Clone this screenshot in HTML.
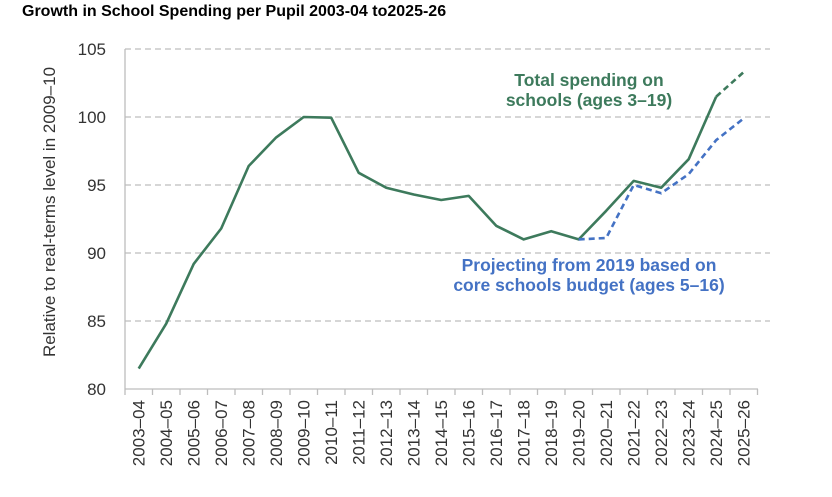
<!DOCTYPE html>
<html><head><style>
body{margin:0;background:#fff;width:832px;height:492px;overflow:hidden}
svg text{font-family:"Liberation Sans",Arial,sans-serif}
</style></head><body>
<svg width="832" height="492" xmlns="http://www.w3.org/2000/svg">
<text x="22" y="16" font-size="16" font-weight="bold" fill="#000">Growth in School Spending per Pupil 2003-04 to2025-26</text>
<g stroke="#bdbdbd" stroke-width="1.3" stroke-dasharray="6,4">
<line x1="125" x2="770" y1="49" y2="49"/>
<line x1="125" x2="770" y1="117" y2="117"/>
<line x1="125" x2="770" y1="185" y2="185"/>
<line x1="125" x2="770" y1="253" y2="253"/>
<line x1="125" x2="770" y1="321" y2="321"/>
</g>
<line x1="125" x2="125" y1="49" y2="389" stroke="#bdbdbd" stroke-width="1.3"/>
<line x1="125" x2="758" y1="389" y2="389" stroke="#bdbdbd" stroke-width="1.3"/>
<g stroke="#bdbdbd" stroke-width="1.3" id="ticks"></g>
<g font-size="17" fill="#333" text-anchor="end">
<text x="106" y="55">105</text><text x="106" y="123">100</text><text x="106" y="191">95</text>
<text x="106" y="259">90</text><text x="106" y="327">85</text><text x="106" y="395">80</text>
</g>
<text transform="translate(55,212) rotate(-90)" font-size="17" fill="#333" text-anchor="middle">Relative to real-terms level in 2009–10</text>
<g id="xl" font-size="17" fill="#333"></g>
<polyline id="g" fill="none" stroke="#3d7a5c" stroke-width="2.6" stroke-linejoin="round"/>
<polyline id="gd" fill="none" stroke="#3d7a5c" stroke-width="2.6" stroke-dasharray="6,4"/>
<polyline id="b" fill="none" stroke="#4472c4" stroke-width="2.6" stroke-dasharray="6,4"/>
<g font-size="17.5" font-weight="bold" fill="#3d7a5c" text-anchor="middle">
<text x="589" y="86">Total spending on</text><text x="589" y="106">schools (ages 3–19)</text></g>
<g font-size="17.5" font-weight="bold" fill="#4472c4" text-anchor="middle">
<text x="589" y="271">Projecting from 2019 based on</text><text x="589" y="291">core schools budget (ages 5–16)</text></g>
</svg>
<script>
var X=i=>138.7+27.5*i,Y=v=>389-(v-80)*13.6;
var g=[81.5,84.8,89.2,91.8,96.4,98.5,100,99.95,95.9,94.8,94.3,93.9,94.2,92,91,91.6,91,93.1,95.3,94.8,96.9,101.5,103.3];
var b=[91,91.1,95,94.4,95.8,98.3,99.9];
var p=(a,o)=>a.map((v,i)=>X(i+o).toFixed(1)+","+Y(v).toFixed(1)).join(" ");
document.getElementById("g").setAttribute("points",p(g.slice(0,22),0));
document.getElementById("gd").setAttribute("points",p(g.slice(21),21));
document.getElementById("b").setAttribute("points",p(b,16));
var t="",l="";
for(var i=0;i<=23;i++)t+='<line x1="'+(125+27.5*i)+'" x2="'+(125+27.5*i)+'" y1="389" y2="395"/>';
for(var i=0;i<23;i++){var y=2003+i,s=y+"–"+String((y+1)%100).padStart(2,"0");
l+='<text transform="translate('+(X(i)+6)+',400) rotate(-90)" text-anchor="end">'+s+'</text>';}
document.getElementById("ticks").innerHTML=t;document.getElementById("xl").innerHTML=l;
</script>
</body></html>
